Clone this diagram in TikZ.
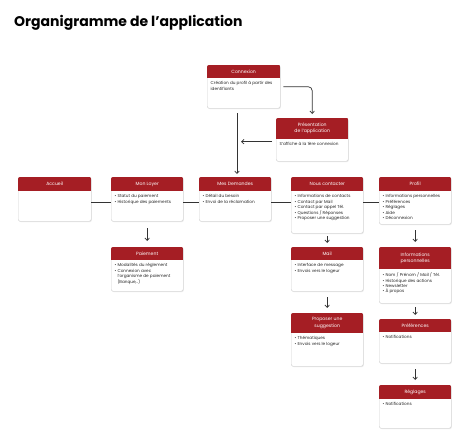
\documentclass[tikz,border=0pt]{standalone}
\usepackage{fontspec}
\setmainfont{Poppins}
\usetikzlibrary{arrows.meta,shadows,calc}
\definecolor{hdrred}{HTML}{A51E24}
\definecolor{lnk}{HTML}{333333}
\tikzset{
 cardbox/.style={draw=black!18, line width=0.4pt, fill=white, rounded corners=2pt, inner sep=0pt,
   drop shadow={opacity=0.18, shadow xshift=0.6pt, shadow yshift=-0.9pt}},
 hdrtext/.style={text=white, font=\fontsize{4.6}{6.2}\selectfont, align=center, inner sep=0pt},
 bodytext/.style={font=\fontsize{4.2}{5.4}\selectfont, align=left, inner sep=0pt, text=black!85},
 link/.style={draw=lnk, line width=0.7pt},
 arr/.style={link, -{Straight Barb[length=2.5pt,width=4.5pt]}},
}
\newcommand\card[8]{%
 \node[cardbox, minimum width=#4pt, minimum height=#5pt, anchor=north west] (#1) at (#2,#3) {};
 \begin{scope}
  \clip[rounded corners=2pt] (#1.north west) rectangle (#1.south east);
  \fill[hdrred] (#1.north west) rectangle ($(#1.north east)+(0,#6)$);
 \end{scope}
 \node[hdrtext] (#1-title) at ($(#1.north)+(0,#6/2)$) {#7};
 \node[bodytext, anchor=north west] (#1-body) at ($(#1.north west)+(3.5,#6+3.5)$) {#8};
}
\newcommand\bl{\textbullet\ }
\newcommand\ib{\phantom{\textbullet\ }}
\begin{document}
\begin{tikzpicture}[x=1pt,y=-1pt]
\useasboundingbox (0,0) rectangle (468,444);
\node[anchor=base west, inner sep=0pt, font=\fontsize{14}{17}\selectfont\bfseries] (title) at (14,27) {Organigramme de l’application};

\card{cx}{207}{65}{73}{43}{13}{Connexion}{Création du profil à partir des\\identifiants}
\card{pres}{276}{118}{72}{43}{21}{Présentation\\de l’application}{S’affiche à la 1ère connexion}
\card{acc}{18}{177}{73}{44}{14}{Accueil}{}
\card{loyer}{111}{177}{72}{44}{14}{Mon Loyer}{\bl Statut du paiement\\\bl Historique des paiements}
\card{dem}{199}{177}{72}{44}{14}{Mes Demandes}{\bl Détail du besoin\\\bl Envoi de la réclamation}
\card{contact}{291}{177}{72}{56}{14}{Nous contacter}{\bl Informations de contacts\\\bl Contact par Mail\\\bl Contact par appel Tél.\\\bl Questions / Réponses\\\bl Proposer une suggestion}
\card{profil}{379}{177}{72}{47}{14}{Profil}{\bl Informations personnelles\\\bl Préférences\\\bl Réglages\\\bl Aide\\\bl Déconnexion}
\card{paie}{111}{247}{72}{44}{13}{Paiement}{\bl Modalités du règlement\\\bl Connexion avec\\\ib l’organisme de paiement\\\ib (Banque,..)}
\card{mail}{291}{247}{72}{44}{13}{Mail}{\bl Interface de message\\\bl Envois vers le logeur}
\card{sugg}{291}{313}{72}{53}{20}{Proposer une\\suggestion}{\bl Thématiques\\\bl Envois vers le logeur}
\card{info}{379}{247}{72}{56}{22}{Informations\\personnelles}{\bl Nom / Prénom / Mail / Tél.\\\bl Historique des actions\\\bl Newsletter\\\bl À propos}
\card{pref}{379}{319}{72}{44}{13}{Préférences}{\bl Notifications}
\card{regl}{379}{385}{72}{43}{14}{Réglages}{\bl Notifications}

% horizontal line
\coordinate (hl) at (0,202);
\draw[link] (acc.east |- hl) -- (loyer.west |- hl);
\draw[link] (loyer.east |- hl) -- (dem.west |- hl);
\draw[link] (dem.east |- hl) -- (contact.west |- hl);
\draw[link] (contact.east |- hl) -- (profil.west |- hl);

% top connectors
\draw[arr, rounded corners=4pt] ($(cx.east)+(3,0)$) -| ($(pres.north)+(0,-4)$);
\coordinate (vtop) at (237,113);
\draw[arr] (vtop) -- ($(vtop |- dem.north)+(0,-3)$);
\draw[arr] ($(pres.west)+(-4,2)$) -- ($(vtop |- pres.west)+(4,2)$);

% down arrows
\draw[arr] ($(loyer.south)+(0,7)$) -- ($(paie.north)+(0,-6)$);
\draw[arr] ($(contact.south)+(0,3)$) -- ($(mail.north)+(0,-4)$);
\draw[arr] ($(mail.south)+(0,6)$) -- ($(sugg.north)+(0,-5)$);
\draw[arr] ($(profil.south)+(0,6)$) -- ($(info.north)+(0,-5)$);
\draw[arr] ($(info.south)+(0,4)$) -- ($(pref.north)+(0,-4)$);
\draw[arr] ($(pref.south)+(0,6)$) -- ($(regl.north)+(0,-5)$);
\end{tikzpicture}
\end{document}
